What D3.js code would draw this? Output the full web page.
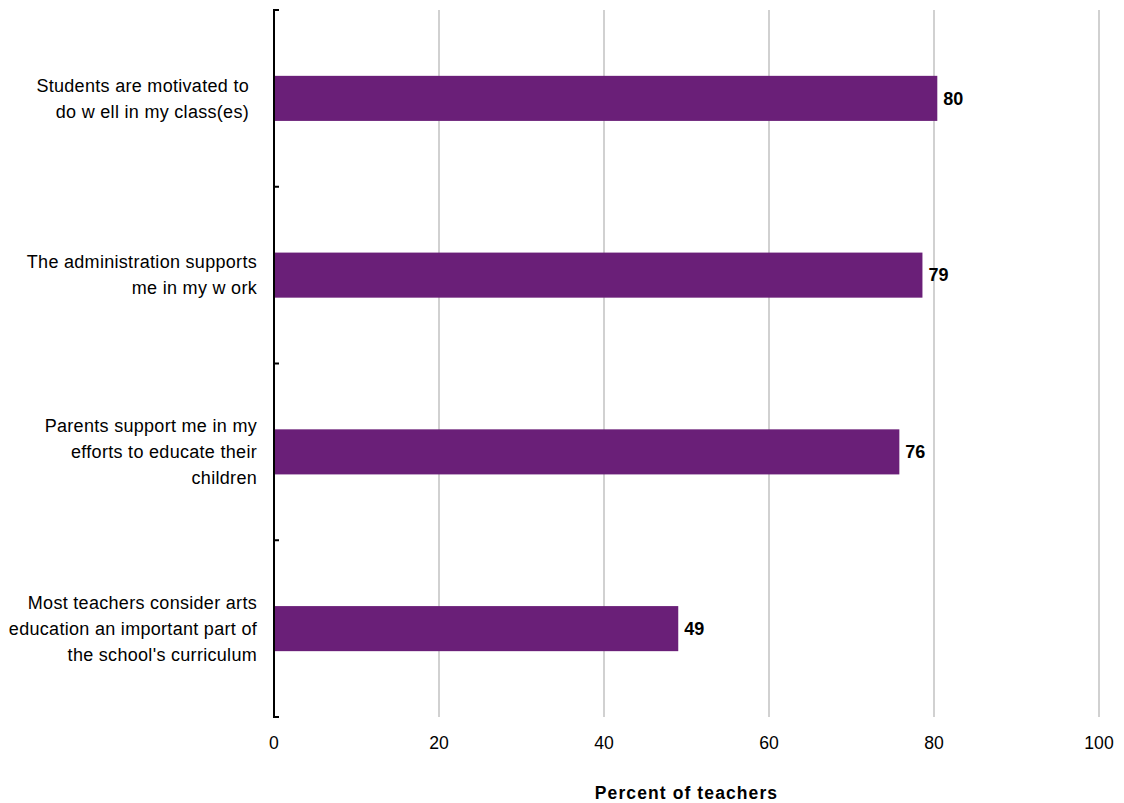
<!DOCTYPE html>
<html>
<head>
<meta charset="utf-8">
<script src="https://cdn.jsdelivr.net/npm/d3@7"></script>
<style>
  html, body { margin: 0; padding: 0; background: #ffffff; }
  svg { display: block; }
  text { font-family: "Liberation Sans", Arial, sans-serif; fill: #000; }
</style>
</head>
<body>
<svg id="chart" width="1124" height="803"></svg>
<script>
// ---- data ----
const categories = [
  ["Students are motivated to", "do w ell in my class(es)"],
  ["The administration supports", "me in my w ork"],
  ["Parents support me in my", "efforts to educate their", "children"],
  ["Most teachers consider arts", "education an important part of", "the school's curriculum"]
];
const categoryKeys = ["motivated", "administration", "parents", "teachers"];
const values = [80.4, 78.6, 75.8, 49.0];
const valueLabels = ["80", "79", "76", "49"];
const xTicks = [0, 20, 40, 60, 80, 100];
const xTitle = "Percent of teachers";

// ---- layout ----
const svg = d3.select("#chart");
const plotLeft = 274, plotRight = 1099, plotTop = 10, plotBottom = 717;

const x = d3.scaleLinear().domain([0, 100]).range([plotLeft, plotRight]);
const y = d3.scaleBand().domain(categoryKeys).range([plotTop, plotBottom]).padding(0);
const step = y.step();
const barH = step * 0.255;

// gridlines
svg.append("g").selectAll("line")
  .data(xTicks.filter(d => d > 0))
  .join("line")
  .attr("x1", d => x(d)).attr("x2", d => x(d))
  .attr("y1", plotTop).attr("y2", plotBottom)
  .attr("stroke", "#c6c6c6").attr("stroke-width", 1.6);

// bars
svg.append("g").selectAll("rect")
  .data(values)
  .join("rect")
  .attr("x", x(0))
  .attr("y", (d, i) => y(categoryKeys[i]) + (step - barH) / 2)
  .attr("width", d => x(d) - x(0))
  .attr("height", barH)
  .attr("fill", "#6a1f78");

// value labels
svg.append("g").selectAll("text")
  .data(values)
  .join("text")
  .attr("x", d => x(d) + 6)
  .attr("y", (d, i) => y(categoryKeys[i]) + step / 2)
  .attr("dy", "0.35em")
  .attr("font-size", 18)
  .attr("font-weight", "bold")
  .text((d, i) => valueLabels[i]);

// y axis line and ticks
const yAxis = svg.append("g");
yAxis.append("line")
  .attr("x1", plotLeft).attr("x2", plotLeft)
  .attr("y1", plotTop).attr("y2", plotBottom)
  .attr("stroke", "#000").attr("stroke-width", 2);
const boundaries = categoryKeys.map(k => y(k)).concat([plotBottom]);
yAxis.selectAll("line.tick")
  .data(boundaries)
  .join("line")
  .attr("class", "tick")
  .attr("x1", plotLeft - 1).attr("x2", plotLeft + 5)
  .attr("y1", d => d).attr("y2", d => d)
  .attr("stroke", "#000").attr("stroke-width", 2);

// category labels
const lineH = 26;
const catG = svg.append("g");
categories.forEach((lines, i) => {
  const cy = y(categoryKeys[i]) + step / 2;
  const t = catG.append("text")
    .attr("text-anchor", "end")
    .attr("font-size", 18)
    .attr("letter-spacing", 0.3);
  lines.forEach((ln, j) => {
    t.append("tspan")
      .attr("x", i === 0 ? 249 : 257)
      .attr("y", cy + (j - (lines.length - 1) / 2) * lineH)
      .attr("dy", "0.35em")
      .text(ln);
  });
});

// x tick labels
svg.append("g").selectAll("text")
  .data(xTicks)
  .join("text")
  .attr("x", d => x(d))
  .attr("y", 749)
  .attr("text-anchor", "middle")
  .attr("font-size", 17.6)
  .text(d => d);

// x axis title
svg.append("text")
  .attr("x", (plotLeft + plotRight) / 2)
  .attr("y", 799)
  .attr("text-anchor", "middle")
  .attr("font-size", 17.5)
  .attr("font-weight", "bold")
  .attr("letter-spacing", 1.1)
  .text(xTitle);
</script>
</body>
</html>
